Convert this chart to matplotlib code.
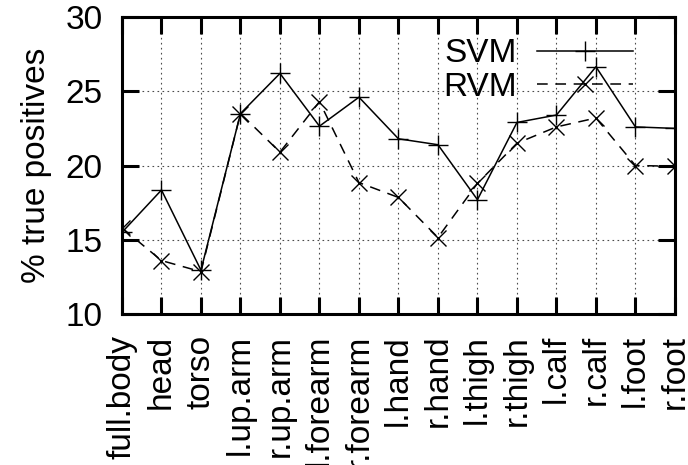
import numpy as np
import matplotlib.pyplot as plt

# -----------------------------
# Data
# -----------------------------
parts = ["full.body", "head", "torso", "l.up.arm", "r.up.arm", "l.forearm",
         "r.forearm", "l.hand", "r.hand", "l.thigh", "r.thigh", "l.calf",
         "r.calf", "l.foot", "r.foot"]

svm = [15.5, 18.35, 12.95, 23.5, 26.2, 22.65, 24.6, 21.8, 21.4,
       17.7, 22.9, 23.4, 26.65, 22.6, 22.5]
rvm = [15.8, 13.6, 12.85, 23.5, 20.9, 24.3, 18.85, 17.85, 15.15,
       18.8, 21.5, 22.6, 23.2, 20.0, 19.95]

plt.rcParams.update({
    "font.family": ["Liberation Sans", "DejaVu Sans"],
    "font.size": 24,
})

# -----------------------------
# Plot
# -----------------------------
fig = plt.figure(figsize=(6.88, 4.65), dpi=100)
ax = fig.add_axes([0.1773, 0.3247, 0.8037, 0.6387])

x = np.arange(len(parts))
ax.plot(x, svm, color="black", lw=1.1, marker="+", ms=14, mew=1.0,
        label="SVM")
ax.plot(x, rvm, color="black", lw=1.1, ls=(0, (7, 5)), marker="x", ms=11,
        mew=1.0, label="RVM")

ax.set_xlim(0, len(parts) - 1)
ax.set_ylim(10, 30)
ax.set_xticks(x)
ax.set_xticklabels(parts, rotation=90)
ax.set_yticks([10, 15, 20, 25, 30])
ax.set_ylabel("% true positives", labelpad=10)

# gnuplot-like frame and ticks
for s in ax.spines.values():
    s.set_linewidth(2.2)
ax.tick_params(direction="in", length=12, width=2.2, top=True, right=True)
ax.tick_params(axis="y", pad=14)
ax.tick_params(axis="x", pad=15)

ax.grid(True, color="black", ls=(0, (1.5, 3)), lw=0.8, alpha=0.7)

leg = ax.legend(loc="upper right", bbox_to_anchor=(0.961, 0.996),
                frameon=False, markerfirst=False, handlelength=2.9,
                handletextpad=0.6, labelspacing=0.08, borderaxespad=0.2)

fig.savefig("out.png", dpi=100)
